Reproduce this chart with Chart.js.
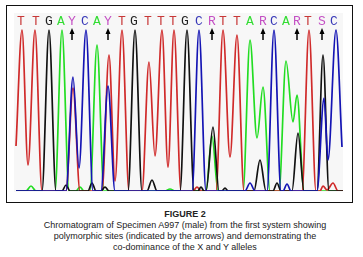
<!DOCTYPE html>
<html>
<head>
<meta charset="utf-8">
<script src="https://cdn.jsdelivr.net/npm/chart.js"></script>
<style>
  body { margin: 0; width: 363px; height: 257px; background: #fff; position: relative; overflow: hidden; }
  #frame { position: absolute; left: 6px; top: 5px; width: 347px; height: 198px; box-sizing: border-box; border: 1.5px solid #111; }
  #trace { position: absolute; left: 14px; top: 13px; background: #f7f7f7; }
  #caption { position: absolute; left: 6px; top: 209px; width: 358px; text-align: center;
             font-family: "Liberation Sans", Arial, sans-serif; font-size: 9px; line-height: 11px; color: #222; }
  #caption b { display: block; }
</style>
</head>
<body>
<div id="frame"></div>
<canvas id="trace" width="329" height="179"></canvas>
<div id="caption">
  <b>FIGURE 2</b>
  Chromatogram of Specimen A997 (male) from the first system showing<br>
  polymorphic sites (indicated by the arrows) and demonstrating the<br>
  co-dominance of the X and Y alleles
</div>
<script>
// base calls and their scan positions
var bases = ['T','T','G','A','Y','C','A','Y','T','G','T','T','T','G','C','R','T','T','A','R','C','A','R','T','S','C'];
var basePos = [21, 36, 49, 61, 72, 85, 97, 108, 122, 134, 148, 161, 173, 185, 199, 212, 223, 237, 250, 263, 274, 286, 297, 308, 322, 334];

// trace C (blue)
var cX = [16, 66, 73, 79, 86, 93, 101, 108, 115, 192, 199, 206, 245, 250, 255, 267, 274, 281, 283, 287, 291, 317, 324, 328, 336, 342];
var cY = [0, 0, 114, 23, 161, 0, 0, 105, 0, 0, 161, 0, 0, 8, 0, 0, 161, 0, 0, 7, 0, 0, 93, 31, 161, 44];

// trace T (red)
var tX = [16, 22, 28, 35, 42, 66, 73, 80, 102, 109, 115, 122, 129, 142, 149, 155, 162, 168, 174, 181, 193, 197, 201, 216, 223, 230, 237, 244, 302, 309, 316, 320, 323, 327, 333, 338, 343];
var tY = [45, 161, 26, 161, 0, 0, 103, 0, 0, 136, 10, 161, 0, 0, 129, 35, 161, 24, 161, 0, 0, 4, 0, 0, 161, 34, 156, 0, 0, 161, 0, 0, 5, 1, 8, 0, 0];

// trace G (black)
var gX = [16, 42, 49, 56, 62, 66, 70, 88, 92, 96, 101, 105, 109, 128, 135, 142, 147, 152, 157, 180, 187, 194, 198, 201, 204, 206, 213, 219, 222, 225, 228, 254, 260, 266, 273, 277, 281, 292, 298, 304, 317, 323, 329, 343];
var gY = [0, 0, 161, 0, 0, 6, 0, 0, 8, 0, 0, 4, 0, 0, 161, 0, 0, 11, 0, 0, 161, 0, 0, 4, 0, 0, 64, 0, 0, 3, 0, 0, 31, 0, 0, 8, 0, 0, 58, 0, 0, 136, 0, 0];

// trace A (green)
var aX = [16, 26, 31, 36, 55, 62, 69, 76, 80, 84, 90, 97, 104, 165, 170, 175, 206, 212, 218, 243, 250, 257, 263, 270, 279, 286, 293, 297, 304, 343];
var aY = [0, 0, 5, 0, 0, 161, 0, 0, 4, 0, 0, 146, 0, 0, 2, 0, 0, 55, 0, 0, 151, 53, 104, 0, 0, 130, 69, 96, 0, 0];

var baseColors = { T: '#c83838', G: '#222222', A: '#33dd33', C: '#3838b8' };

function points(xs, ys) {
    return xs.map(function (x, i) { return { x: x, y: ys[i] }; });
}

function trace(label, xs, ys, color) {
    return {
        label: label,
        data: points(xs, ys),
        borderColor: color,
        borderWidth: 1.7,
        pointRadius: 0,
        fill: false,
        cubicInterpolationMode: 'monotone'
    };
}

// draws the base letters and the arrows over ambiguous calls
var baseCalls = {
    id: 'baseCalls',
    afterDatasetsDraw: function (chart) {
        var ctx = chart.ctx;
        var xs = chart.scales.x;
        ctx.save();
        ctx.font = '13px "Liberation Mono", "Courier New", monospace';
        ctx.textAlign = 'center';
        ctx.textBaseline = 'middle';
        bases.forEach(function (b, i) {
            var px = xs.getPixelForValue(basePos[i]);
            ctx.fillStyle = baseColors[b] || '#c450c4';
            ctx.fillText(b, px, 9);
            if (!baseColors[b]) {
                ctx.strokeStyle = '#000';
                ctx.fillStyle = '#000';
                ctx.lineWidth = 1.5;
                ctx.beginPath();
                ctx.moveTo(px, 19);
                ctx.lineTo(px, 27);
                ctx.stroke();
                ctx.beginPath();
                ctx.moveTo(px, 15);
                ctx.lineTo(px - 2.5, 21);
                ctx.lineTo(px + 2.5, 21);
                ctx.closePath();
                ctx.fill();
            }
        });
        ctx.restore();
    }
};

new Chart(document.getElementById('trace'), {
    type: 'line',
    data: {
        datasets: [
            trace('C', cX, cY, '#1414b4'),
            trace('G', gX, gY, '#111111'),
            trace('T', tX, tY, '#d02a2a'),
            trace('A', aX, aY, '#22dd22')
        ]
    },
    options: {
        responsive: false,
        animation: false,
        devicePixelRatio: 1,
        layout: { padding: { top: 16, bottom: 1, left: 0, right: 0 } },
        scales: {
            x: { type: 'linear', min: 14, max: 343, display: false },
            y: { min: 0, max: 162, display: false }
        },
        plugins: {
            legend: { display: false },
            tooltip: { enabled: false }
        }
    },
    plugins: [baseCalls]
});
</script>
</body>
</html>
